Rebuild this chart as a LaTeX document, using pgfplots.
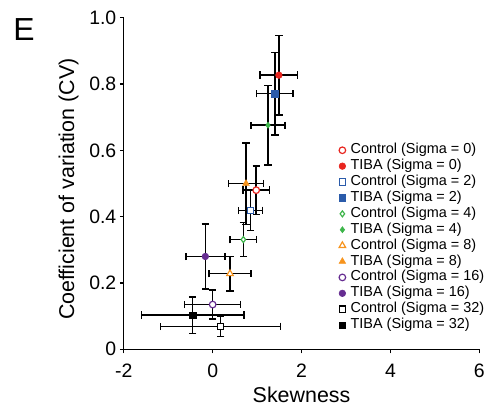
\documentclass[border=0pt]{standalone}
\usepackage{fontspec}
\setmainfont{Liberation Sans}
\usepackage{pgfplots}
\pgfplotsset{compat=1.18}
\definecolor{cred}{HTML}{E8251F}
\definecolor{cblue}{HTML}{2B5BAA}
\definecolor{cgreen}{HTML}{3DB54A}
\definecolor{corange}{HTML}{F7941D}
\definecolor{cpurple}{HTML}{662D91}
\pgfplotsset{eb/.style={error bars/.cd, x dir=both, x explicit, y dir=both, y explicit,
  error bar style={black, line width=1.5bp},
  error mark options={rotate=90, black, mark size=3.7bp, line width=1.5bp}}}
\begin{document}
\begin{tikzpicture}
\useasboundingbox (0,0) rectangle (486bp,405bp);
\node[font=\fontsize{32}{36}\selectfont, inner sep=0pt] at (24bp,375bp) {E};
\begin{axis}[
  at={(123.8bp,55.7bp)}, anchor=south west,
  scale only axis, width=355.5bp, height=331.5bp,
  xmin=-2, xmax=6, ymin=0, ymax=1,
  axis lines=left, axis line style={-, line width=1.3pt, black},
  xtick={-2,0,2,4,6}, xticklabels={-2,0,2,4,6},
  ytick={0,0.2,0.4,0.6,0.8,1.0}, yticklabels={0,0.2,0.4,0.6,0.8,1.0},
  tick align=outside, major tick length=4bp, tick style={black, line width=1.2pt},
  tick label style={font=\fontsize{19.5}{22}\selectfont},
  xticklabel style={yshift=-7bp},
  label style={font=\fontsize{21.5}{24}\selectfont},
  xlabel={Skewness}, ylabel={Coefficient of variation (CV)},
  xlabel style={at={(axis description cs:0.5,-0.136)}, anchor=center},
  ylabel style={at={(axis description cs:-0.155,0.483)}, anchor=center},
  clip=false,
  legend style={at={(0.6025,0.625)}, anchor=north west, draw=none, fill=none,
    font=\fontsize{14.5}{16}\selectfont, row sep=0pt, inner sep=0pt,
    nodes={inner sep=0.5pt, text height=11bp, text depth=3.9bp}},
  legend cell align=left,
  legend image code/.code={\path (-4bp,0bp) (7.5bp,0bp); \draw[#1] plot coordinates {(0bp,0bp)};},
]
% Control 0
\addplot[only marks, mark=*, mark size=3.3bp, mark options={draw=cred, fill=white, line width=1.2pt}, eb]
  table[x=x, y=y, x error=ex, y error=ey] {
x y ex ey
0.98 0.480 0.30 0.073
};
\addlegendentry{Control (Sigma = 0)}
% TIBA 0
\addplot[only marks, mark=*, mark size=3.3bp, mark options={draw=cred, fill=cred, line width=0.6pt}, eb]
  table[x=x, y=y, x error=ex, y error=ey] {
x y ex ey
1.49 0.827 0.42 0.120
};
\addlegendentry{TIBA (Sigma = 0)}
% Control 2
\addplot[only marks, mark=square*, mark size=3.2bp, mark options={draw=cblue, fill=white, line width=1.2pt}, eb]
  table[x=x, y=y, x error=ex, y error=ey] {
x y ex ey
0.85 0.419 0.27 0.061
};
\addlegendentry{Control (Sigma = 2)}
% TIBA 2
\addplot[only marks, mark=square*, mark size=3.2bp, mark options={draw=cblue, fill=cblue, line width=0.6pt}, eb]
  table[x=x, y=y, x error=ex, y error=ey] {
x y ex ey
1.40 0.771 0.41 0.125
};
\addlegendentry{TIBA (Sigma = 2)}
% Control 4
\addplot[only marks, mark=diamond*, mark size=3.0bp, mark options={draw=cgreen, fill=white, line width=1.2pt}, eb]
  table[x=x, y=y, x error=ex, y error=ey] {
x y ex ey
0.69 0.331 0.30 0.051
};
\addlegendentry{Control (Sigma = 4)}
% TIBA 4
\addplot[only marks, mark=diamond*, mark size=3.0bp, mark options={draw=cgreen, fill=cgreen, line width=0.6pt}, eb]
  table[x=x, y=y, x error=ex, y error=ey] {
x y ex ey
1.245 0.676 0.38 0.120
};
\addlegendentry{TIBA (Sigma = 4)}
% Control 8
\addplot[only marks, mark=triangle*, mark size=3.8bp, mark options={draw=corange, fill=white, line width=1.2pt}, eb]
  table[x=x, y=y, x error=ex, y error=ey] {
x y ex ey
0.39 0.228 0.47 0.052
};
\addlegendentry{Control (Sigma = 8)}
% TIBA 8
\addplot[only marks, mark=triangle*, mark size=3.8bp, mark options={draw=corange, fill=corange, line width=0.6pt}, eb]
  table[x=x, y=y, x error=ex, y error=ey] {
x y ex ey
0.75 0.500 0.39 0.123
};
\addlegendentry{TIBA (Sigma = 8)}
% Control 16
\addplot[only marks, mark=*, mark size=3.3bp, mark options={draw=cpurple, fill=white, line width=1.2pt}, eb]
  table[x=x, y=y, x error=ex, y error=ey] {
x y ex ey
0.00 0.135 0.63 0.044
};
\addlegendentry{Control (Sigma = 16)}
% TIBA 16
\addplot[only marks, mark=*, mark size=3.3bp, mark options={draw=cpurple, fill=cpurple, line width=0.6pt}, eb]
  table[x=x, y=y, x error=ex, y error=ey] {
x y ex ey
-0.165 0.280 0.44 0.098
};
\addlegendentry{TIBA (Sigma = 16)}
% Control 32
\addplot[only marks, mark=square*, mark size=3.2bp, mark options={draw=black, fill=white, line width=1.2pt}, eb]
  table[x=x, y=y, x error=ex, y error=ey] {
x y ex ey
0.18 0.069 1.35 0.031
};
\addlegendentry{Control (Sigma = 32)}
% TIBA 32
\addplot[only marks, mark=square*, mark size=3.2bp, mark options={draw=black, fill=black, line width=0.6pt}, eb]
  table[x=x, y=y, x error=ex, y error=ey] {
x y ex ey
-0.45 0.103 1.15 0.055
};
\addlegendentry{TIBA (Sigma = 32)}
\end{axis}
\end{tikzpicture}
\end{document}
